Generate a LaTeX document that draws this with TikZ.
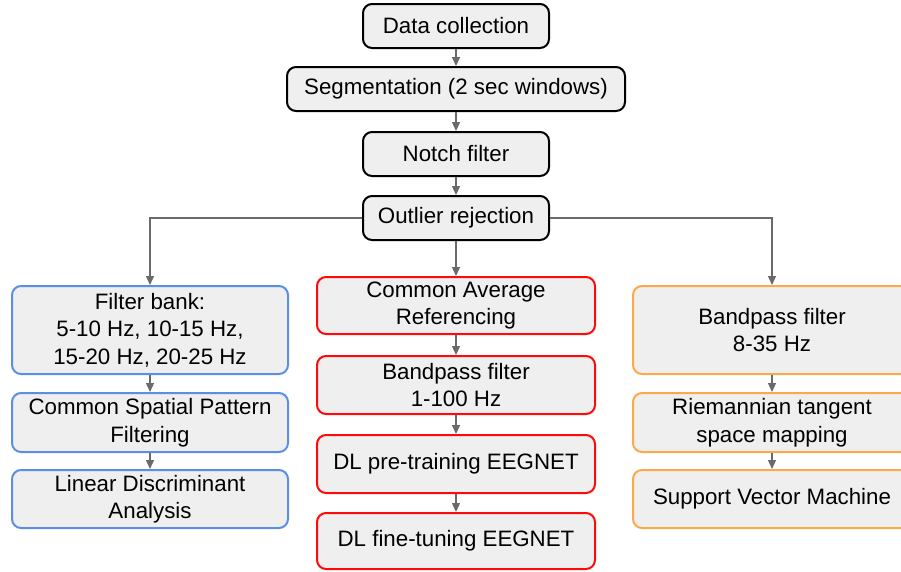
\documentclass[tikz,border=0pt]{standalone}
\usepackage{xcolor}
\usepackage{fontspec}
\setmainfont{Liberation Sans}
\usetikzlibrary{arrows.meta}
\definecolor{boxfill}{HTML}{EFEFEF}
\definecolor{fbblue}{HTML}{5B8FE6}
\definecolor{dlred}{HTML}{FF0A0A}
\definecolor{rgorange}{HTML}{FBA94A}
\definecolor{arrgray}{HTML}{6A6A6A}

\begin{document}
\begin{tikzpicture}[x=1pt,y=-1pt,
  blk/.style={draw=black,fill=boxfill,line width=2pt,rounded corners=9pt,align=center,inner sep=0pt,
    font=\fontsize{22.3}{27.5}\selectfont,minimum height=44pt},
  fbbox/.style={blk,draw=fbblue,minimum width=276pt},
  dlbox/.style={blk,draw=dlred,minimum width=278pt},
  rgbox/.style={blk,draw=rgorange,minimum width=278pt},
  arr/.style={draw=arrgray,line width=1.3pt,-{Triangle[length=9pt,width=8pt]}}]
\useasboundingbox (0,0) rectangle (901,571);
\node[blk,minimum width=186pt] (data) at (456,26) {Data collection};
\node[blk,minimum width=338pt] (seg) at (456,89) {Segmentation (2 sec windows)};
\node[blk,minimum width=186pt] (notch) at (456,154) {Notch filter};
\node[blk,minimum width=186pt] (outlier) at (456,218) {Outlier rejection};
% filter bank branch
\node[fbbox,minimum height=88pt] (fb) at (150,330) {Filter bank:\\5-10 Hz, 10-15 Hz,\\15-20 Hz, 20-25 Hz};
\node[fbbox,minimum height=59pt] (csp) at (150,422.5) {Common Spatial Pattern\\Filtering};
\node[fbbox,minimum height=58pt] (lda) at (150,499) {Linear Discriminant\\Analysis};
% deep learning branch
\node[dlbox,minimum height=57pt] (car) at (456,305.5) {Common Average\\Referencing};
\node[dlbox,minimum height=58pt] (bpdl) at (456,385) {Bandpass filter\\1-100 Hz};
\node[dlbox,minimum height=58pt] (pre) at (456,464) {DL pre-training EEGNET};
\node[dlbox,minimum height=56pt] (fine) at (456,541) {DL fine-tuning EEGNET};
% riemannian branch
\node[rgbox,minimum height=88pt] (bprg) at (772,330) {Bandpass filter\\8-35 Hz};
\node[rgbox,minimum height=59pt] (rts) at (772,422.5) {Riemannian tangent\\space mapping};
\node[rgbox,minimum height=58pt] (svm) at (772,499) {Support Vector Machine};
\draw[arr] (data) -- (seg);
\draw[arr] (seg) -- (notch);
\draw[arr] (notch) -- (outlier);
\draw[arr] (outlier.west) -| (fb.north);
\draw[arr] (outlier) -- (car);
\draw[arr] (outlier.east) -| (bprg.north);
\draw[arr] (fb) -- (csp);
\draw[arr] (csp) -- (lda);
\draw[arr] (car) -- (bpdl);
\draw[arr] (bpdl) -- (pre);
\draw[arr] (pre) -- (fine);
\draw[arr] (bprg) -- (rts);
\draw[arr] (rts) -- (svm);
\end{tikzpicture}
\end{document}
